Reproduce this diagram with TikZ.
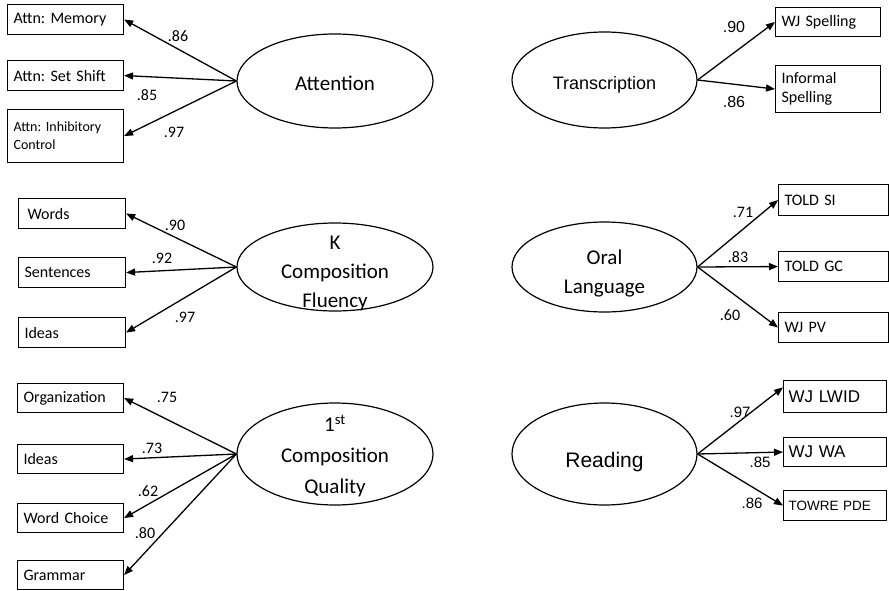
\documentclass[tikz,border=0pt]{standalone}
\usepackage{fontspec}
\setmainfont{Carlito}
\newfontfamily\arialfont{Liberation Sans}
\usetikzlibrary{shapes.geometric,arrows.meta}
\frenchspacing
\begin{document}
\begin{tikzpicture}[x=1pt,y=-1pt,
  box/.style={draw,line width=1.1pt,inner xsep=6pt,inner ysep=0pt,align=left,anchor=north west,
    font=\fontsize{16}{19}\selectfont},
  latent/.style={draw,ellipse,line width=1.2pt,inner sep=0pt},
  ltext/.style={align=center,inner sep=0pt,font=\fontsize{21}{29}\selectfont},
  loading/.style={line width=1.3pt,-{Triangle[length=9pt,width=7pt]}},
  lab/.style={inner sep=0pt,font=\fontsize{16}{18}\selectfont},
  alab/.style={inner sep=0pt,font=\arialfont\fontsize{15}{17}\selectfont}]
\useasboundingbox (0,0) rectangle (889,591);

% ---------- Attention ----------
\node[latent,minimum width=196pt,minimum height=94pt,label={[ltext,yshift=-2pt]center:Attention}] (att) at (335,81) {};
\node[box,text width=104pt,minimum height=30pt] (mem) at (7,4) {Attn: Memory};
\node[box,text width=104pt,minimum height=30pt] (shift) at (7,60) {Attn: Set Shift};
\node[box,text width=104pt,minimum height=53pt,font=\fontsize{14}{18}\selectfont] (inhib) at (7,109) {Attn: Inhibitory\\Control};
\draw[loading] (att.west) -- (mem.east);
\draw[loading] (att.west) -- (shift.east);
\draw[loading] (att.west) -- (inhib.east);
\node[lab] (l1) at (178,36) {.86};
\node[lab] (l2) at (147,95) {.85};
\node[lab] (l3) at (174,132) {.97};

% ---------- K Composition Fluency ----------
\node[latent,minimum width=196pt,minimum height=88pt,label={[ltext,yshift=-6pt]center:K\\Composition\\Fluency}] (kcf) at (335,267) {};
\node[box,text width=95pt,minimum height=30pt] (words) at (18,198) {\hspace{3pt}Words};
\node[box,text width=95pt,minimum height=30pt] (sent) at (18,257) {Sentences};
\node[box,text width=95pt,minimum height=30pt] (ideask) at (18,317) {Ideas};
\draw[loading] (kcf.west) -- (words.east);
\draw[loading] (kcf.west) -- (sent.east);
\draw[loading] (kcf.west) -- (ideask.east);
\node[lab] (l4) at (175,225) {.90};
\node[lab] (l5) at (162,258) {.92};
\node[lab] (l6) at (185,317) {.97};

% ---------- 1st Composition Quality ----------
\node[latent,minimum width=196pt,minimum height=102pt,
  label={[ltext,font=\fontsize{21}{31}\selectfont,yshift=-2pt]center:1\textsuperscript{st}\\Composition\\Quality}] (cq) at (335,454) {};
\node[box,text width=94pt,minimum height=29pt] (org) at (17,383) {Organization};
\node[box,text width=94pt,minimum height=29pt] (ideasq) at (17,444) {Ideas};
\node[box,text width=94pt,minimum height=29pt] (wc) at (17,503) {Word Choice};
\node[box,text width=94pt,minimum height=29pt] (gram) at (17,560) {Grammar};
\draw[loading] (cq.west) -- (org.east);
\draw[loading] (cq.west) -- (ideasq.east);
\draw[loading] (cq.west) -- (wc.east);
\draw[loading] (cq.west) -- (gram.east);
\node[lab] (l7) at (167,397) {.75};
\node[lab] (l8) at (152,448) {.73};
\node[lab] (l9) at (148,491) {.62};
\node[lab] (l10) at (145,533) {.80};

% ---------- Transcription ----------
\node[latent,minimum width=185pt,minimum height=96pt,
  label={[ltext,font=\arialfont\fontsize{18}{22}\selectfont,yshift=-5pt]center:Transcription}] (tr) at (604.5,80) {};
\node[box,text width=93pt,minimum height=29pt] (wjsp) at (775,7) {WJ Spelling};
\node[box,text width=93pt,minimum height=47pt] (infsp) at (775,65) {Informal\\Spelling};
\draw[loading] (tr.east) -- (wjsp.west);
\draw[loading] (tr.east) -- (infsp.west);
\node[alab,font=\arialfont\fontsize{16}{18}\selectfont] (l11) at (734,27) {.90};
\node[alab,font=\arialfont\fontsize{16}{18}\selectfont] (l12) at (734,102) {.86};

% ---------- Oral Language ----------
\node[latent,minimum width=185pt,minimum height=90pt,label={[ltext,yshift=-7pt]center:Oral\\Language}] (oral) at (604.5,267) {};
\node[box,text width=98pt,minimum height=31pt] (tsi) at (778,184) {TOLD SI};
\node[box,text width=98pt,minimum height=30pt] (tgc) at (778,251) {TOLD GC};
\node[box,text width=98pt,minimum height=30pt] (wjpv) at (778,312) {WJ PV};
\draw[loading] (oral.east) -- (tsi.west);
\draw[loading] (oral.east) -- (tgc.west);
\draw[loading] (oral.east) -- (wjpv.west);
\node[lab] (l13) at (743,212) {.71};
\node[lab] (l14) at (738,257) {.83};
\node[lab] (l15) at (730,315) {.60};

% ---------- Reading ----------
\node[latent,minimum width=185pt,minimum height=102pt,
  label={[ltext,font=\arialfont\fontsize{21}{25}\selectfont,yshift=-8pt]center:Reading}] (read) at (604.5,454) {};
\node[box,text width=93pt,minimum height=32pt,font=\arialfont\fontsize{17}{20}\selectfont,inner xsep=5pt] (lwid) at (783,380) {WJ LWID};
\node[box,text width=93pt,minimum height=29pt,font=\arialfont\fontsize{17}{20}\selectfont,inner xsep=5pt] (wa) at (783,437) {WJ WA};
\node[box,text width=93pt,minimum height=30pt,font=\arialfont\fontsize{13.5}{16}\selectfont,inner xsep=5pt] (towre) at (783,490) {TOWRE PDE};
\draw[loading] (read.east) -- (lwid.170);
\draw[loading] (read.east) -- (wa.west);
\draw[loading] (read.east) -- (towre.west);
\node[alab] (l16) at (740,412) {.97};
\node[alab] (l17) at (760,462) {.85};
\node[alab] (l18) at (752,503) {.86};
\end{tikzpicture}
\end{document}
